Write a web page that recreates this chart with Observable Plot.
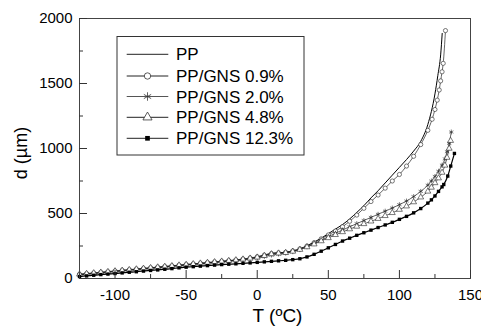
<!DOCTYPE html>
<html><head><meta charset="utf-8">
<script src="https://cdn.jsdelivr.net/npm/d3@7"></script>
<script src="https://cdn.jsdelivr.net/npm/@observablehq/plot@0.6"></script>
<style>
body{margin:0;background:#fff;}
#wrap{position:relative;width:481px;height:327px;font-family:"Liberation Sans",Arial,sans-serif;}
#legend{position:absolute;left:0;top:0;overflow:visible;}
</style>
</head><body><div id="wrap"></div>
<script>
// ---- data ----
const T = [-125,-120,-115,-110,-105,-100,-95,-90,-85,-80,-75,-70,-65,-60,-55,-50,-45,-40,-35,-30,-25,-20,-15,-10,-5,0,5,10,15,20,25,30,35,40,45,50,55,60,65,70,75,80,85,90,95,100,105,110,115,120];

const d09  = [33,38,43,48,53,58,63,68,73,78,83,88,93,98,103,108,113,118,123,128,133,138,143,150,158,167,180,192,197,202,212,228,250,276,305,335,365,398,440,488,540,592,642,695,750,800,865,940,1030,1140];
const t09tail = [123,125,126.6,128,129,130,130.8,132.4];
const d09tail = [1225,1300,1372,1450,1520,1590,1655,1907];

const d20  = [28,33,38,43,48,53,58,63,68,73,78,83,88,93,98,103,108,113,118,123,128,133,138,144,150,157,168,180,188,195,206,222,244,268,294,322,348,373,398,422,446,470,494,518,542,568,596,630,670,718];
const t20tail = [122.5,125,127.5,130,132,133.5,135,136.5];
const d20tail = [750,785,825,872,920,975,1040,1127];

const d48  = [32,37,42,47,52,57,62,67,72,77,82,87,92,97,102,107,112,117,122,127,132,137,142,148,155,163,175,188,194,198,208,222,242,264,288,312,336,358,380,400,420,440,460,482,505,530,556,588,625,670];
const t48tail = [122.5,125,127.5,130,132,133.5,135,136];
const d48tail = [700,735,772,815,870,930,1000,1060];

const d123 = [15,20,25,30,34,38,43,48,52,57,62,66,71,76,82,87,91,95,99,103,107,110,113,117,120,124,128,132,136,140,145,152,166,186,210,236,262,288,310,332,352,372,392,412,432,455,478,505,538,580];
const t123tail = [122.5,125,127.5,130,131.2,134,136.1,138.7];
const d123tail = [605,635,670,705,723,788,865,962];

const tPP = [-125,-100,-75,-50,-25,0,5,10,15,20,25,30,35,40,45,50,55,60,65,70,75,80,85,90,95,100,105,110,115,120,125,127,129,130.1];
const dPP = [30,55,80,105,130,165,180,193,198,202,212,228,252,280,310,345,380,415,458,508,560,620,675,735,795,855,915,980,1055,1185,1420,1560,1720,1885];

const xMajor = [-100,-50,0,50,100,150];
const xMinor = [-125,-75,-25,25,75,125];
const yMajor = [0,500,1000,1500,2000];
const yMinor = [250,750,1250,1750];

const legendLabels = ["PP","PP/GNS 0.9%","PP/GNS 2.0%","PP/GNS 4.8%","PP/GNS 12.3%"];

// ---- build tables ----
const rows = (ts, ds) => ts.map((t, i) => ({T: t, d: ds[i]}));
const sPP = rows(tPP, dPP);
const s09 = rows(T.concat(t09tail), d09.concat(d09tail));
const s20 = rows(T.concat(t20tail), d20.concat(d20tail));
const s48 = rows(T.concat(t48tail), d48.concat(d48tail));
const s123 = rows(T.concat(t123tail), d123.concat(d123tail));

const ink = "#222";
const cv = "monotone-x";
const plot = Plot.plot({
  width: 481, height: 327,
  marginLeft: 79, marginRight: 11, marginTop: 18, marginBottom: 49,
  x: {domain: [-125, 150]},
  y: {domain: [0, 2000]},
  style: {fontFamily: "'Liberation Sans', Arial, sans-serif", fontSize: "15px", color: "#000", background: "#fff", overflow: "visible"},
  marks: [
    Plot.line(sPP, {x: "T", y: "d", stroke: "#000", strokeWidth: 1, curve: cv}),
    Plot.line(s09, {x: "T", y: "d", stroke: ink, strokeWidth: 0.7, curve: cv}),
    Plot.dot(s09, {x: "T", y: "d", symbol: "circle", r: 2.1, fill: "#fff", stroke: ink, strokeWidth: 0.6}),
    Plot.line(s20, {x: "T", y: "d", stroke: ink, strokeWidth: 0.7, curve: cv}),
    Plot.dot(s20, {x: "T", y: "d", symbol: "asterisk", r: 2.3, stroke: ink, strokeWidth: 0.6}),
    Plot.line(s48, {x: "T", y: "d", stroke: ink, strokeWidth: 0.7, curve: cv}),
    Plot.dot(s48, {x: "T", y: "d", symbol: "triangle", r: 2.2, fill: "#fff", stroke: ink, strokeWidth: 0.6}),
    Plot.line(s123, {x: "T", y: "d", stroke: "#000", strokeWidth: 1.2, curve: cv}),
    Plot.dot(s123, {x: "T", y: "d", symbol: "square", r: 1.9, fill: "#000", stroke: "none"}),
    Plot.frame({stroke: "#444"}),
    Plot.ruleX(xMajor, {x: d => d, insetTop: 252, stroke: "#333"}),
    Plot.ruleX(xMinor, {x: d => d, insetTop: 256, stroke: "#333"}),
    Plot.ruleY(yMajor, {y: d => d, insetRight: 383, stroke: "#333"}),
    Plot.ruleY(yMinor, {y: d => d, insetRight: 387, stroke: "#333"}),
    Plot.axisX(xMajor, {tickSize: 0, tickPadding: 11, tickFormat: d => String(d), label: null, fontSize: 15}),
    Plot.axisY(yMajor, {tickSize: 0, tickPadding: 7, tickFormat: d => String(d), label: null, fontSize: 15}),
    Plot.text(["T (ºC)"], {text: d => d, frameAnchor: "bottom", lineAnchor: "middle", textAnchor: "middle", dy: 37, dx: 2.5, fontSize: 19}),
    Plot.text(["d (µm)"], {text: d => d, frameAnchor: "left", lineAnchor: "middle", textAnchor: "middle", rotate: -90, dx: -58, dy: 4.5, fontSize: 18})
  ]
});
const wrap = document.getElementById("wrap");
wrap.appendChild(plot);

// ---- legend overlay ----
const lg = d3.select(wrap).append("svg").attr("id", "legend")
  .attr("width", 481).attr("height", 327);
lg.append("rect").attr("x", 117).attr("y", 36.5).attr("width", 187).attr("height", 118.5)
  .attr("fill", "#fff").attr("stroke", "#333").attr("stroke-width", 1);
const rowY = [54.3, 76, 96.5, 117.3, 138.3];
const syms = [null, d3.symbolCircle, d3.symbolAsterisk, d3.symbolTriangle, d3.symbolSquare];
const symSize = [0, 32, 50, 36, 22];
legendLabels.forEach((lab, i) => {
  const y = rowY[i];
  lg.append("line").attr("x1", 126.7).attr("x2", 168.3).attr("y1", y).attr("y2", y)
    .attr("stroke", i === 2 ? "#555" : "#222").attr("stroke-width", 1);
  if (syms[i]) {
    const filled = i === 4;
    lg.append("path").attr("d", d3.symbol(syms[i], symSize[i])())
      .attr("transform", `translate(147.5,${y})`)
      .attr("fill", filled ? "#000" : (i === 2 ? "none" : "#fff"))
      .attr("stroke", filled ? "none" : "#333").attr("stroke-width", 0.8);
  }
  lg.append("text").attr("x", 176).attr("y", y + 6.1).text(lab)
    .attr("font-size", 17).attr("fill", "#000")
    .attr("font-family", "'Liberation Sans', Arial, sans-serif");
});
</script>
</body></html>
